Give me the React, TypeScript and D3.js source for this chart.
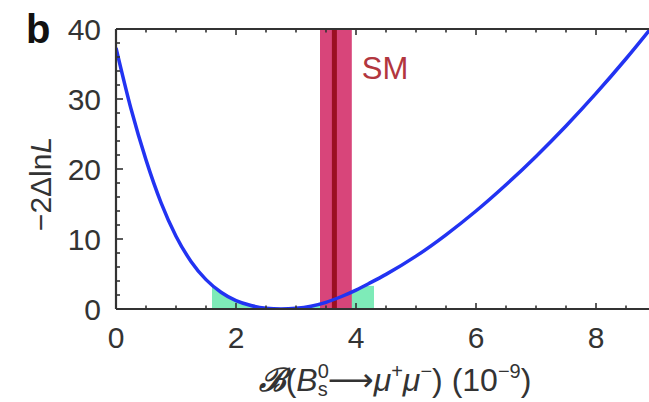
import React from 'react';
import * as d3 from 'd3';

// Profile likelihood scan
const xValues = [0, 0.25, 0.5, 0.75, 1, 1.25, 1.5, 1.75, 2, 2.25, 2.5, 2.75, 3, 3.25, 3.5, 3.75, 4, 4.25, 4.5, 5, 5.5, 6, 6.5, 7, 7.5, 8, 8.5, 9];
const nllValues = [37.3, 28.6, 21.3, 15.2, 10.4, 6.8, 4.2, 2.4, 1.2, 0.5, 0.12, 0, 0.1, 0.4, 0.95, 1.75, 2.7, 3.8, 4.95, 7.55, 10.6, 14.0, 17.75, 21.8, 26.15, 30.8, 35.75, 41.0];

// SM prediction band
const smRange = [3.4, 3.93];
const smCentral = [3.64];
const smLabel = ['SM'];

// Interval shaded in green
const greenRange = [1.6, 4.3];
const greenTop = [3.3];

const xMajorTicks = [0, 2, 4, 6, 8];
const xMinorTicks = d3.range(0.5, 9.01, 0.5).filter((v) => v % 2 !== 0);
const yMajorTicks = [0, 10, 20, 30, 40];
const yMinorTicks = d3.range(2, 40, 2).filter((v) => v % 10 !== 0);

const W = 649;
const H = 402;
const left = 116;
const right = 656;
const top = 29;
const bottom = 309;

export default function App() {
  const x = d3.scaleLinear().domain([0, 9]).range([left, right]);
  const y = d3.scaleLinear().domain([0, 40]).range([bottom, top]);
  const pts = xValues.map((v, i) => [v, nllValues[i]] as [number, number]);
  const line = d3
    .line<[number, number]>()
    .x((d) => x(d[0]))
    .y((d) => y(d[1]))
    .curve(d3.curveMonotoneX);
  const area = d3
    .area<[number, number]>()
    .x((d) => x(d[0]))
    .y0(y(0))
    .y1((d) => y(d[1]))
    .curve(d3.curveMonotoneX);

  const axisColor = '#333';
  const font = 'Liberation Sans, Arial, Helvetica, sans-serif';

  return (
    <svg
      width={W}
      height={H}
      style={{ position: 'absolute', left: 0, top: 0, background: '#fff' }}
      fontFamily={font}
    >
      <defs>
        <clipPath id="plot">
          <rect x={left} y={top} width={right - left} height={bottom - top} />
        </clipPath>
        <clipPath id="under">
          <path d={area(pts) || ''} />
        </clipPath>
      </defs>

      {/* green interval */}
      <g clipPath="url(#under)">
        <rect
          x={x(greenRange[0])}
          y={y(greenTop[0])}
          width={x(greenRange[1]) - x(greenRange[0])}
          height={y(0) - y(greenTop[0])}
          fill="#7eebb8"
        />
      </g>

      {/* SM band */}
      <rect
        x={x(smRange[0])}
        y={top}
        width={x(smRange[1]) - x(smRange[0])}
        height={bottom - top}
        fill="#d8457a"
      />
      <line x1={x(smCentral[0])} x2={x(smCentral[0])} y1={top} y2={bottom} stroke="#9b0f22" strokeWidth={5} />
      <text x={x(smRange[1]) + 10} y={79} fontSize={31} fill="#b2363e">
        {smLabel[0]}
      </text>

      {/* curve */}
      <g clipPath="url(#plot)">
        <path d={line(pts) || ''} fill="none" stroke="#2233f2" strokeWidth={3.5} />
      </g>

      {/* axes frame */}
      <line x1={left} x2={W} y1={top} y2={top} stroke={axisColor} strokeWidth={2.2} />
      <line x1={left} x2={W} y1={bottom} y2={bottom} stroke={axisColor} strokeWidth={2.2} />
      <line x1={left} x2={left} y1={top} y2={bottom} stroke={axisColor} strokeWidth={2.2} />

      {/* x ticks (bottom and top, inward) */}
      {xMajorTicks.map((t) => (
        <g key={'xM' + t}>
          <line x1={x(t)} x2={x(t)} y1={bottom} y2={bottom - 6} stroke={axisColor} strokeWidth={1.6} />
          <line x1={x(t)} x2={x(t)} y1={top} y2={top + 6} stroke={axisColor} strokeWidth={1.6} />
          <text x={x(t)} y={bottom + 39} fontSize={30} textAnchor="middle" fill="#333">
            {t}
          </text>
        </g>
      ))}
      {xMinorTicks.map((t) => (
        <g key={'xm' + t}>
          <line x1={x(t)} x2={x(t)} y1={bottom} y2={bottom - 3.5} stroke={axisColor} strokeWidth={1.6} />
          <line x1={x(t)} x2={x(t)} y1={top} y2={top + 3.5} stroke={axisColor} strokeWidth={1.6} />
        </g>
      ))}

      {/* y ticks */}
      {yMajorTicks.map((t) => (
        <g key={'yM' + t}>
          <line x1={left} x2={left + 7} y1={y(t)} y2={y(t)} stroke={axisColor} strokeWidth={1.6} />
          <text x={101} y={y(t) + 11} fontSize={30} textAnchor="end" fill="#333">
            {t}
          </text>
        </g>
      ))}
      {yMinorTicks.map((t) => (
        <line key={'ym' + t} x1={left} x2={left + 4} y1={y(t)} y2={y(t)} stroke={axisColor} strokeWidth={1.6} />
      ))}

      {/* panel label */}
      <text x={26} y={43} fontSize={40} fontWeight="bold" fill="#111">
        b
      </text>

      {/* y label */}
      <text transform="translate(51,184) rotate(-90)" fontSize={30} textAnchor="middle" fill="#333">
        <tspan>−2Δln</tspan>
        <tspan fontStyle="italic">L</tspan>
      </text>

      {/* x label */}
      <text x={395} y={391} fontSize={32} textAnchor="middle" fill="#333">
        <tspan fontStyle="italic" fontWeight="bold" fontFamily="DejaVu Serif, serif">ℬ</tspan>
        <tspan>(</tspan>
        <tspan fontStyle="italic">B</tspan>
        <tspan fontSize={20} dy={-13}>0</tspan>
        <tspan fontSize={20} dx={-11} dy={18}>s</tspan>
        <tspan dy={-5} fontFamily="DejaVu Sans, sans-serif">⟶</tspan>
        <tspan fontStyle="italic">μ</tspan>
        <tspan fontSize={20} dy={-13}>+</tspan>
        <tspan fontStyle="italic" dy={13}>μ</tspan>
        <tspan fontSize={20} dy={-13}>−</tspan>
        <tspan dy={13}>) (10</tspan>
        <tspan fontSize={20} dy={-13}>−9</tspan>
        <tspan dy={13}>)</tspan>
      </text>
    </svg>
  );
}
